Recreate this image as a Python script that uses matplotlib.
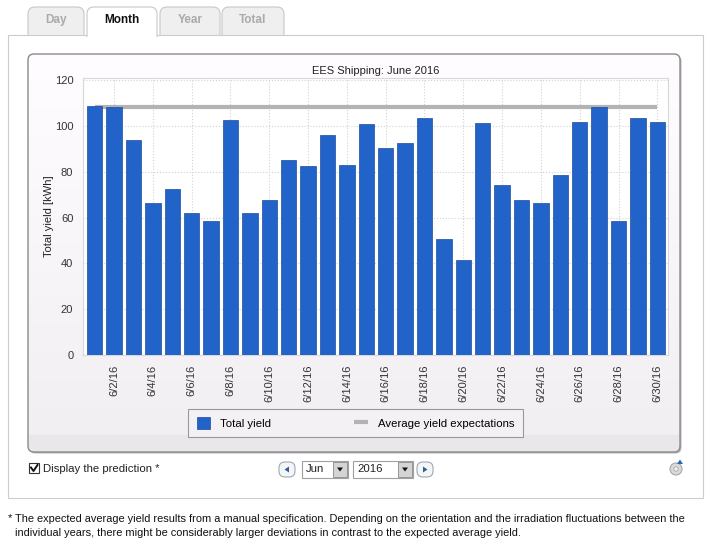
import numpy as np
import matplotlib
matplotlib.use("Agg")
import matplotlib.pyplot as plt
from matplotlib.patches import FancyBboxPatch, Rectangle, Polygon, Circle

plt.rcParams["font.family"] = ["Liberation Sans", "DejaVu Sans"]

# ---- data ----
DAYS = list(range(1, 31))
TOTAL_YIELD = [108.8, 108.4, 93.8, 66.3, 72.4, 62.0, 58.5, 102.7, 62.0, 67.6,
               85.1, 82.5, 96.1, 82.9, 100.9, 90.3, 92.5, 103.6, 50.5, 41.6,
               101.2, 74.2, 67.5, 66.3, 78.5, 101.8, 108.4, 58.5, 103.6, 101.8]
AVG_EXPECTED = 108.2
TICK_DAYS = DAYS[1::2]
TICK_LABELS = [f"6/{d}/16" for d in TICK_DAYS]
Y_TICKS = [0, 20, 40, 60, 80, 100, 120]

TITLE = "EES Shipping: June 2016"
TABS = ["Day", "Month", "Year", "Total"]
FOOTNOTE_1 = ("* The expected average yield results from a manual specification. "
              "Depending on the orientation and the irradiation fluctuations between the")
FOOTNOTE_2 = ("individual years, there might be considerably larger deviations "
              "in contrast to the expected average yield.")

W, H = 716, 547
BAR_BLUE = "#2163c9"
AVG_GRAY = "#b3b3b3"
UI_FS = 8.2

fig = plt.figure(figsize=(W / 100, H / 100), dpi=100)
fig.patch.set_facecolor("white")

# background layer in pixel coordinates (origin top-left)
bg = fig.add_axes([0, 0, 1, 1], zorder=0)
bg.axis("off")

# tabs + outer box
bg.add_patch(Rectangle((8, 35), 695, 463, fc="white", ec="#cccccc", lw=0.8, zorder=2))
tab_x = [(28, 84), (87, 157), (160, 220), (222, 284)]
for (x0, x1), name in zip(tab_x, TABS):
    active = name == "Month"
    p = FancyBboxPatch((x0, 7), x1 - x0, 40, boxstyle="round,pad=0,rounding_size=7",
                       fc="white" if active else "#efefef", ec="#c8c8c8", lw=0.8,
                       zorder=3 if active else 1)
    bg.add_patch(p)
    p.set_clip_path(Rectangle((0, 0), W, 36.6 if active else 35.2, transform=bg.transData))
    bg.text((x0 + x1) / 2, 20, name, ha="center", va="center", fontsize=8.5,
            fontweight="bold", color="#111111" if active else "#aaaaaa", zorder=4)

# chart panel with shadow and gradient fill
bg.add_patch(FancyBboxPatch((29.5, 55.5), 652, 398, boxstyle="round,pad=0,rounding_size=6",
                            fc="#b5b5b5", ec="none", zorder=2.5))
panel = FancyBboxPatch((28, 54), 652, 398, boxstyle="round,pad=0,rounding_size=6",
                       fc="none", ec="#8a8a8a", lw=1.0, zorder=4)
bg.add_patch(panel)
rows = np.arange(398)
shade = np.where(rows < 381, 1.0 - 0.055 * rows / 381, 0.915)
grad = np.stack([shade, shade - 0.008, shade], axis=-1)[:, None, :]
im = bg.imshow(grad, extent=(28, 680, 452, 54), aspect="auto", zorder=3,
               interpolation="bilinear")
im.set_clip_path(panel)

# controls under the chart
bg.add_patch(Rectangle((29, 463), 10, 10, fc="white", ec="#333333", lw=0.8, zorder=3))
bg.plot([31, 33.5, 37.5], [467.5, 471, 465], color="#111111", lw=1.4, zorder=4)
bg.text(43, 468.5, "Display the prediction *", fontsize=UI_FS, va="center",
        color="#222222", zorder=4)

for x0, direction in [(279, -1), (417, 1)]:
    bg.add_patch(FancyBboxPatch((x0, 462), 16, 15, boxstyle="round,pad=0,rounding_size=6",
                                fc="#f5f5f5", ec="#9aa8b8", lw=0.8, zorder=3))
    cx = x0 + 8
    bg.add_patch(Polygon([(cx + 2.5 * direction, 469.5), (cx - 2 * direction, 466.5),
                          (cx - 2 * direction, 472.5)], closed=True, fc="#2a5fa0",
                         ec="none", zorder=4))
for x0, w, txt in [(302, 46, "Jun"), (353, 60, "2016")]:
    bg.add_patch(Rectangle((x0, 461), w, 17, fc="white", ec="#a0a0a0", lw=0.8, zorder=3))
    bg.text(x0 + 4, 469.5, txt, fontsize=UI_FS, va="center", color="#222222", zorder=4)
    bx = x0 + w - 15
    bg.add_patch(Rectangle((bx, 462), 14, 15, fc="#d4d4d4", ec="#888888", lw=0.6, zorder=4))
    bg.add_patch(Polygon([(bx + 4, 467.5), (bx + 10, 467.5), (bx + 7, 471.5)], closed=True,
                         fc="#111111", ec="none", zorder=5))

bg.add_patch(Circle((676, 469), 6, fc="#dadada", ec="#a8a8a8", lw=0.8, zorder=3))
bg.add_patch(Circle((676, 469), 2.2, fc="#f2f2f2", ec="#a8a8a8", lw=0.6, zorder=4))
bg.add_patch(Polygon([(677, 464), (683, 464), (680, 459.5)], closed=True,
                     fc="#2a6ab0", ec="none", zorder=5))

bg.text(8, 519, FOOTNOTE_1, fontsize=7.9, va="center", color="#111111", zorder=4)
bg.text(15, 533, FOOTNOTE_2, fontsize=7.9, va="center", color="#111111", zorder=4)

bg.set_xlim(0, W)
bg.set_ylim(H, 0)

# ---- the chart ----
ax = fig.add_axes([83 / W, 1 - 355 / H, 585 / W, 277 / H], zorder=1)
ax.set_facecolor("white")
bars = ax.bar(DAYS, TOTAL_YIELD, width=0.79, color=BAR_BLUE, edgecolor="#1b4c9c",
              linewidth=0.5, zorder=3, label="Total yield")
avg_line, = ax.plot(DAYS, [AVG_EXPECTED] * len(DAYS), color=AVG_GRAY, lw=3,
                    solid_capstyle="butt", zorder=2, label="Average yield expectations")

ax.set_xlim(0.4, 30.55)
ax.set_ylim(0, 121)
ax.set_xticks(TICK_DAYS)
ax.set_xticklabels(TICK_LABELS, rotation=90, fontsize=8, color="#333333")
ax.set_yticks(Y_TICKS)
ax.set_yticklabels([str(v) for v in Y_TICKS], fontsize=8, color="#333333")
ax.tick_params(axis="x", length=0, pad=7)
ax.tick_params(axis="y", length=0, pad=7)
ax.grid(True, color="#d2d2d2", linestyle=":", linewidth=0.8, zorder=0)
ax.set_axisbelow(True)
for spine in ax.spines.values():
    spine.set_color("#d8d8d8")
    spine.set_linewidth(0.8)

ax.set_title(TITLE, fontsize=8, color="#222222", pad=3)
ax.set_ylabel("Total yield [kWh]", fontsize=8, color="#222222")
ax.yaxis.set_label_coords(-0.05, 0.5)

leg = ax.legend(handles=[bars, avg_line], loc="center",
                bbox_to_anchor=(188 / W, 1 - 438 / H, 335 / W, 30 / H),
                bbox_transform=fig.transFigure, mode="expand", ncol=2,
                fontsize=UI_FS, handlelength=1.2, handleheight=1.2, handletextpad=0.9,
                borderpad=0.75, borderaxespad=0, columnspacing=1.0, fancybox=False,
                framealpha=1, facecolor="#f3f1f3", edgecolor="#999999")
leg.get_frame().set_linewidth(0.8)

fig.savefig("out.png", dpi=100)
